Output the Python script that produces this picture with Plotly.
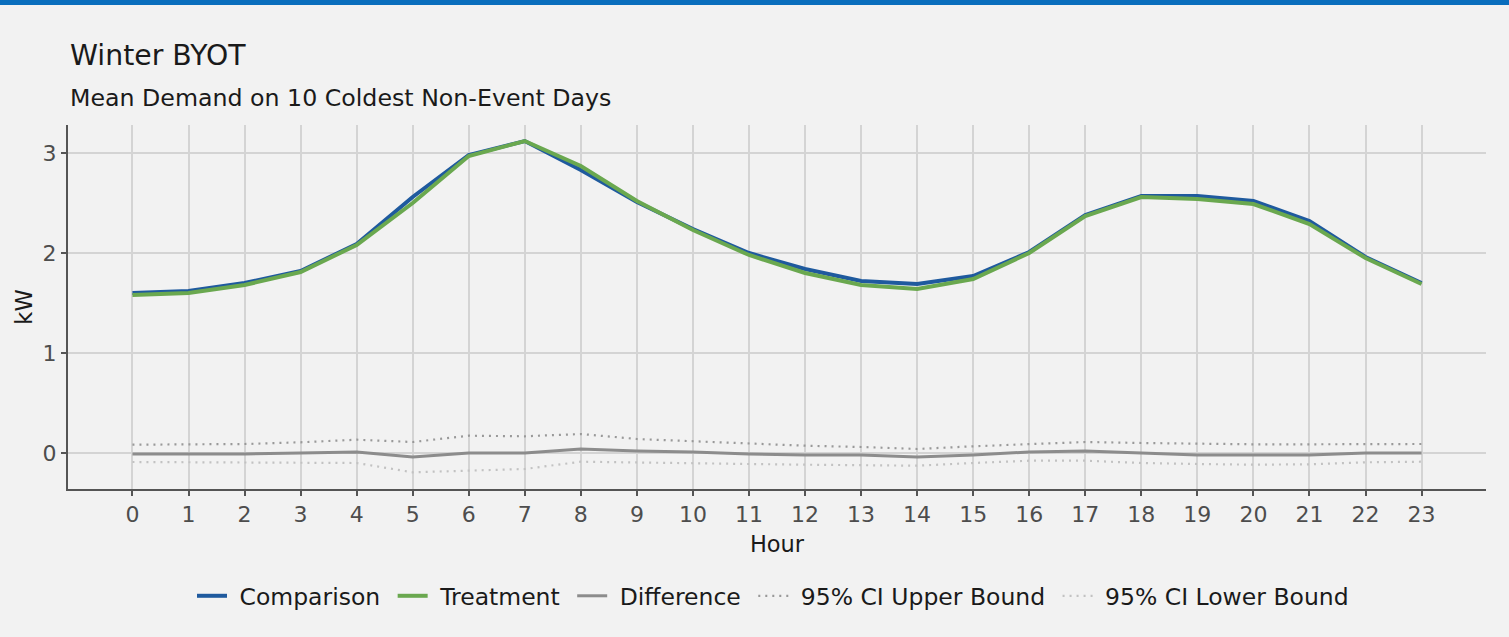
import plotly.graph_objects as go

hours = list(range(24))
comparison = [1.60, 1.62, 1.70, 1.82, 2.09, 2.56, 2.98, 3.12, 2.83, 2.51, 2.24, 2.00,
              1.84, 1.72, 1.69, 1.77, 2.01, 2.38, 2.57, 2.57, 2.52, 2.32, 1.96, 1.70]
treatment = [1.58, 1.60, 1.68, 1.81, 2.08, 2.50, 2.97, 3.12, 2.87, 2.52, 2.23, 1.98,
             1.80, 1.68, 1.64, 1.74, 2.00, 2.37, 2.56, 2.54, 2.49, 2.29, 1.95, 1.69]
difference = [-0.01, -0.01, -0.01, 0.00, 0.01, -0.04, 0.00, 0.00, 0.04, 0.02, 0.01, -0.01,
              -0.02, -0.02, -0.04, -0.02, 0.01, 0.02, 0.00, -0.02, -0.02, -0.02, 0.00, 0.00]
ci_upper = [0.083, 0.087, 0.09, 0.107, 0.133, 0.11, 0.173, 0.167, 0.19, 0.14, 0.117, 0.09,
            0.073, 0.06, 0.04, 0.067, 0.09, 0.11, 0.10, 0.09, 0.087, 0.087, 0.09, 0.09]
ci_lower = [-0.09, -0.093, -0.097, -0.10, -0.10, -0.193, -0.173, -0.16, -0.087, -0.097, -0.103, -0.11,
            -0.117, -0.12, -0.127, -0.10, -0.077, -0.077, -0.10, -0.11, -0.117, -0.113, -0.093, -0.087]
series_names = ["Comparison", "Treatment", "Difference", "95% CI Upper Bound", "95% CI Lower Bound"]
y_ticks = [0, 1, 2, 3]

FONT = "DejaVu Sans"
BG = "#f2f2f2"
NB = "\u00a0"


def label(n):
    return NB + n + NB


fig = go.Figure()
fig.add_trace(go.Scatter(x=hours, y=comparison, mode="lines", name=label(series_names[0]),
                         line=dict(color="#1f5a9e", width=4)))
fig.add_trace(go.Scatter(x=hours, y=treatment, mode="lines", name=label(series_names[1]),
                         line=dict(color="#6aa84f", width=4)))
fig.add_trace(go.Scatter(x=hours, y=difference, mode="lines", name=label(series_names[2]),
                         line=dict(color="#8c8c8c", width=3)))
fig.add_trace(go.Scatter(x=hours, y=ci_upper, mode="lines", name=label(series_names[3]),
                         line=dict(color="#999999", width=2.2, dash="2px,5px")))
fig.add_trace(go.Scatter(x=hours, y=ci_lower, mode="lines", name=label(series_names[4]),
                         line=dict(color="#c2c2c2", width=2.2, dash="2px,5px")))

fig.update_layout(
    width=1509, height=637,
    paper_bgcolor=BG, plot_bgcolor=BG,
    margin=dict(l=68, r=23, t=125, b=148),
    font=dict(family=FONT, size=22, color="#4d4d4d"),
    showlegend=True,
    legend=dict(orientation="h", x=0.5, xanchor="center", y=-0.294, yanchor="middle",
                font=dict(family=FONT, size=23.5, color="#1a1a1a"),
                bgcolor="rgba(0,0,0,0)", itemwidth=30, tracegroupgap=0),
    xaxis=dict(range=[-1.15, 24.15], tickmode="array", tickvals=hours,
               ticktext=[str(h) for h in hours],
               showgrid=True, gridcolor="#d4d4d4", gridwidth=1.5,
               zeroline=False, showline=True, linecolor="#555555", linewidth=2,
               ticks="outside", ticklen=5, tickwidth=2, tickcolor="#555555",
               tickfont=dict(size=22, color="#4d4d4d"),
               title=dict(text="Hour", font=dict(size=22.5, color="#1a1a1a"), standoff=10)),
    yaxis=dict(range=[-0.36, 3.28], tickmode="array", tickvals=y_ticks,
               ticktext=[str(v) for v in y_ticks],
               showgrid=True, gridcolor="#d4d4d4", gridwidth=1.5,
               zeroline=False, showline=True, linecolor="#555555", linewidth=2,
               ticks="outside", ticklen=5, tickwidth=2, tickcolor="#555555",
               tickfont=dict(size=22, color="#4d4d4d"),
               title=dict(text="kW", font=dict(size=22.5, color="#1a1a1a"), standoff=4)),
    annotations=[
        dict(text="Winter BYOT", xref="paper", yref="paper", x=0, y=1 + 70 / 364,
             xanchor="left", yanchor="middle", showarrow=False,
             font=dict(family=FONT, size=28.3, color="#1a1a1a")),
        dict(text="Mean Demand on 10 Coldest Non-Event Days", xref="paper", yref="paper",
             x=0, y=1 + 27 / 364, xanchor="left", yanchor="middle", showarrow=False,
             font=dict(family=FONT, size=23.7, color="#1a1a1a")),
    ],
    shapes=[
        dict(type="rect", xref="paper", yref="paper", x0=-0.1, x1=1.1,
             y0=1 + 120 / 364, y1=1 + 130 / 364, fillcolor="#0a6ebd", line=dict(width=0),
             layer="above"),
    ],
)

fig.write_html("out.html",
               config={"displayModeBar": False},
               post_script="document.body.style.margin='0';document.body.style.padding='0';"
                           "document.body.style.overflow='hidden';")
